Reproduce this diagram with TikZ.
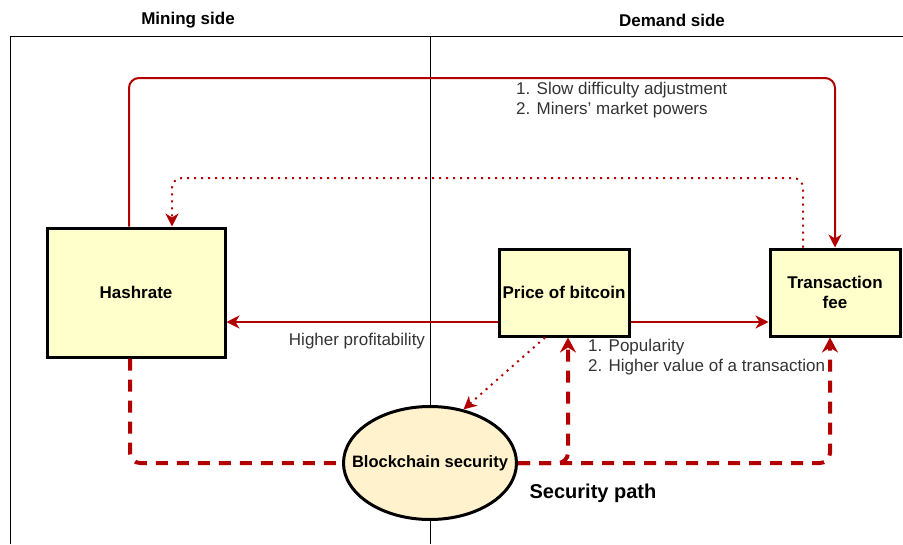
\documentclass[tikz,border=0pt]{standalone}
\usepackage{fontspec}
\setmainfont{Liberation Sans}
\usepackage{xcolor}
\usepackage{tikz}
\usetikzlibrary{shapes.geometric, arrows.meta, positioning, calc}
\definecolor{edgered}{HTML}{B20000}
\definecolor{boxfill}{HTML}{FFFFCC}
\definecolor{ovalfill}{HTML}{FFF2CC}
\definecolor{ink3}{HTML}{333333}

\begin{document}
\begin{tikzpicture}[
  x=1pt, y=-1pt,
  font=\fontsize{17}{20}\selectfont,
  every node/.style={align=center},
  block/.style={rectangle, draw=black, fill=boxfill, line width=3pt,
    inner sep=2pt, font=\fontsize{17}{20}\selectfont\bfseries},
  oval/.style={ellipse, draw=black, fill=ovalfill, line width=3pt,
    minimum width=173pt, minimum height=113pt, inner xsep=-24pt, inner ysep=0pt,
    font=\fontsize{16.5}{20}\selectfont\bfseries},
  sidehead/.style={font=\fontsize{17}{20}\selectfont\bfseries},
  edgelabel/.style={align=left, inner sep=0pt, color=ink3,
    font=\fontsize{17}{20}\selectfont},
  arrow/.style={-{Stealth[length=13pt, width=13pt, inset=4pt]}, line width=2pt,
    color=edgered, rounded corners=10pt},
  dotarrow/.style={arrow, dash pattern=on 2pt off 5pt},
  secpath/.style={line width=4pt, color=edgered, dash pattern=on 12pt off 9pt,
    rounded corners=10pt},
  secarrow/.style={secpath, -{Stealth[length=15pt, width=16pt, inset=5pt]}},
]
  \useasboundingbox (0,0) rectangle (903,544);

  % frame of the two sides
  \draw[line width=1pt] (10,544) -- (10,36) -- (903,36);
  \draw[line width=1pt] (430,36) -- (430,544);
  \node[sidehead] (mining) at (188,20) {Mining side};
  \node[sidehead] (demand) at (672,20) {Demand side};

  \node[block, minimum width=178pt, minimum height=129pt] (hash) at (136,292.5) {Hashrate};
  \node[block, minimum width=130pt, minimum height=87pt] (price) at (564,292.5) {Price of bitcoin};
  \node[block, minimum width=130pt, minimum height=87pt] (fee) at (835,292.5) {Transaction\\fee};
  \node[oval] (sec) at (430,463) {Blockchain security};

  \coordinate (topline) at (0,78);
  \coordinate (dotline) at (0,178);

  \draw[arrow] ([xshift=-7pt]hash.north) -- ([xshift=-7pt]hash.north |- topline) -| (fee.north);
  \draw[dotarrow] ([xshift=-32pt]fee.north) -- ([xshift=-32pt]fee.north |- dotline) -| ([xshift=36pt]hash.north);
  \draw[arrow] ([yshift=-29.5pt]price.west) -- ([yshift=-29.5pt]hash.east);
  \draw[arrow] ([yshift=-29.5pt]price.east) -- ([yshift=-29.5pt]fee.west);
  \draw[dotarrow] ([xshift=-19pt]price.south) -- (sec.58);

  \draw[secpath] ([xshift=-6pt]hash.south) |- (sec.west);
  \draw[secarrow] (sec.east) -| ([xshift=4pt]price.south);
  \draw[secarrow] (sec.east) -| ([xshift=-5pt]fee.south);

  \node[edgelabel, anchor=north west] (slowlbl) at (516,82) {1. Slow difficulty adjustment\\2. Miners' market powers};
  \node[edgelabel] (profitlbl) at (357,341) {Higher profitability};
  \node[edgelabel, anchor=north west] (poplbl) at (588,339) {1. Popularity\\2. Higher value of a transaction};
  \node[font=\fontsize{20}{24}\selectfont\bfseries] (seclbl) at (593,493) {Security path};
\end{tikzpicture}
\end{document}
